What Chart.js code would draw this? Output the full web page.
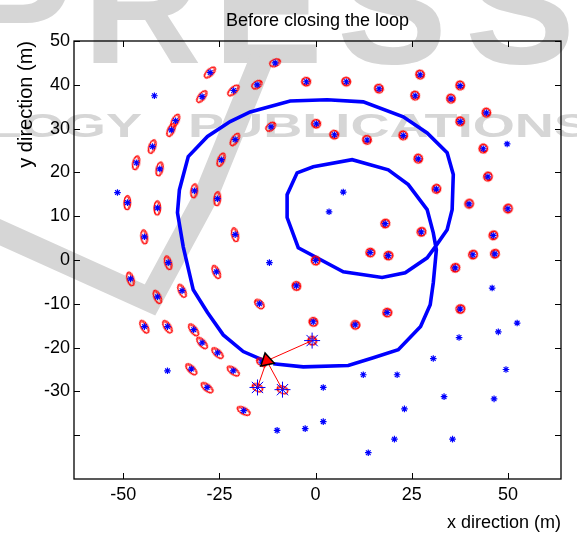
<!DOCTYPE html>
<html>
<head>
<meta charset="utf-8">
<script src="https://cdn.jsdelivr.net/npm/chart.js@4.4.1/dist/chart.umd.min.js"></script>
<style>
  html, body { margin: 0; padding: 0; background: #fff; }
</style>
</head>
<body>
<canvas id="slam" width="577" height="536"></canvas>
<script>
// robot trajectory (m)
const pathX = [-11.0, -3.2, 8.5, 15.0, 21.5, 27.3, 29.8, 30.6, 31.4, 30.6, 29.0, 24.1, 18.9, 9.5, -0.6, -4.8, -7.4, -7.4, -4.5, 7.2, 17.3, 23.3, 29.0, 31.1, 34.2, 35.5, 35.8, 34.2, 29.0, 22.8, 12.4, 3.0, -6.6, -17.0, -22.2, -28.1, -33.1, -35.4, -35.9, -34.4, -31.8, -28.1, -24.0, -18.8, -13.8];
const pathY = [-23.7, -24.4, -24.1, -22.3, -20.5, -15.2, -10.2, -5.2, 2.3, 6.2, 11.5, 17.2, 20.6, 22.9, 21.3, 19.9, 14.9, 9.7, 2.8, -2.7, -4.0, -2.9, 0.5, 3.0, 6.9, 11.5, 19.5, 24.5, 29.0, 32.7, 36.1, 36.6, 36.3, 33.8, 31.6, 28.2, 23.6, 16.0, 10.8, 3.0, -6.8, -12.0, -17.1, -20.9, -22.8];

// landmarks already in the map (star + covariance ellipse)
const mappedX = [-27.4, -10.5, -21.3, -15.2, -29.5, -36.4, -37.5, -11.6, -20.9, -42.4, -46.6, -40.5, -24.5, -48.9, -31.5, -25.5, -41.1, -44.5, -20.9, -38.3, -25.8, -48.1, -34.7, -41.1, -14.6, -5.0, -44.5, -38.5, -31.7, -29.5, -25.5, -32.3, -21.4, -28.2, -18.7, -14.0,
  -2.4, 8.0, 16.5, 27.2, 37.6, 25.9, 35.2, 44.4, 0.2, 4.9, 13.4, 22.8, 37.6, 26.7, 43.6, 44.8, 31.4, 39.9, 50.0, 18.1, 27.5, 46.2, 14.2, 18.9, 40.9, 46.6, 0.0, 36.3, 37.6, 18.6, -0.6, 10.3];
const mappedY = [42.8, 45.0, 38.7, 40.0, 37.3, 31.8, 29.7, 30.4, 27.5, 25.9, 22.2, 20.8, 22.9, 13.1, 15.8, 14.0, 11.9, 5.3, 5.8, -0.6, -2.7, -4.3, -7.0, -8.4, -10.0, -5.9, -15.2, -15.2, -15.9, -18.9, -21.2, -24.9, -25.3, -29.1, -34.4, -23.3,
  40.7, 40.7, 39.1, 42.3, 39.8, 37.5, 36.8, 33.6, 31.1, 28.6, 27.4, 28.4, 31.6, 23.1, 25.4, 19.0, 16.2, 12.8, 11.7, 8.3, 6.4, 5.6, 1.7, 1.0, 1.2, 1.4, -0.1, -1.8, -11.2, -12.0, -14.1, -14.8];

// landmarks not yet seen (star only)
const unseenX = [-41.9, -51.5, -12.0, -38.5, -10.0, 49.8, 7.2, 3.5, 45.9, 52.4, 47.5, 37.3, 30.6, 49.5, 12.4, 21.2, 2.0, 33.4, 46.4, 23.1, 2.0, -2.7, 20.5, 35.6, 13.7];
const unseenY = [37.5, 15.4, -0.6, -25.3, -38.9, 26.5, 15.5, 11.0, -6.4, -14.4, -16.4, -17.7, -22.5, -25.0, -26.2, -26.2, -29.1, -31.2, -31.7, -34.0, -36.9, -38.5, -40.9, -40.9, -44.0];

// landmarks observed at the current step
const observedX = [-0.9, -15.1, -8.6];
const observedY = [-18.4, -29.1, -29.6];

// current robot pose
const robotX = -12.7;
const robotY = -23.0;
const robotHeading = 108; // degrees, canvas rotation of the triangle

const xTicks = [-50, -25, 0, 25, 50];
const yTicks = [50, 40, 30, 20, 10, 0, -10, -20, -30];

const FONT = "'Liberation Sans', Arial, Helvetica, sans-serif";
Chart.defaults.font.family = FONT;
Chart.defaults.color = '#000';

const pts = (xs, ys) => xs.map((x, i) => ({ x: x, y: ys[i] }));

let rays = [];
observedX.forEach((x, i) => {
  rays.push({ x: robotX, y: robotY }, { x: x, y: observedY[i] }, { x: null, y: null });
});

// red covariance ellipses as small sprites
function sprite(a, b, lw) {
  const c = document.createElement('canvas');
  const w = Math.ceil(2 * Math.max(a, b)) + 6;
  c.width = w; c.height = w;
  const g = c.getContext('2d');
  g.strokeStyle = '#ff0000';
  g.lineWidth = lw;
  g.beginPath(); g.ellipse(w / 2, w / 2, a, b, 0, 0, Math.PI * 2); g.stroke();
  g.beginPath(); g.ellipse(w / 2 + 0.8, w / 2 - 0.6, a * 0.8, b * 0.88, 0, 0, Math.PI * 2); g.stroke();
  return c;
}
const bigEll = sprite(3.3, 7.2, 1.1);
const midEll = sprite(3.6, 5.6, 1.1);
const ring = sprite(4.2, 4.2, 1.4);

function ellStyle(ctx) {
  const v = ctx.raw;
  if (!v) return ring;
  if (v.x < -17) return bigEll;
  if (v.x < -6) return midEll;
  return ring;
}
function ellRot(ctx) {
  const v = ctx.raw;
  if (!v) return 0;
  const dx = (v.x - 8) * 3.85, dy = -(v.y - 12) * 4.38;
  return Math.atan2(dy, dx) * 180 / Math.PI;
}

const watermark = {
  id: 'watermark',
  beforeDraw(chart) {
    const g = chart.ctx;
    g.save();
    g.fillStyle = '#fff';
    g.fillRect(0, 0, chart.width, chart.height);
    g.fillStyle = '#d6d6d6';
    g.strokeStyle = '#d6d6d6';
    g.font = 'bold 165px ' + FONT;
    g.textBaseline = 'alphabetic';
    g.textAlign = 'center';
    const letters = ['P', 'R', 'E', 'S', 'S'];
    const lx = [18, 142, 268, 392, 520];
    letters.forEach((l, i) => g.fillText(l, lx[i], 63));

    g.font = 'bold 33px ' + FONT;
    const k = 402 / g.measureText('PUBLICATIONS').width;
    g.save();
    g.textAlign = 'right';
    g.translate(142, 137);
    g.scale(k, 1);
    g.fillText('SCIENCE AND TECHNOLOGY', 0, 0);
    g.restore();
    g.save();
    g.textAlign = 'left';
    g.translate(188, 137);
    g.scale(k, 1);
    g.fillText('PUBLICATIONS', 0, 0);
    g.restore();

    g.lineWidth = 24;
    g.lineJoin = 'miter';
    g.beginPath();
    g.moveTo(-5, 230);
    g.lineTo(150, 300);
    g.lineTo(205, 198);
    g.lineTo(262, 58);
    g.stroke();
    g.restore();
  }
};

const frame = {
  id: 'frame',
  afterDraw(chart) {
    const g = chart.ctx;
    const a = chart.chartArea;
    const sx = chart.scales.x, sy = chart.scales.y;
    g.save();
    g.strokeStyle = '#000';
    g.lineWidth = 1.3;
    g.strokeRect(a.left, a.top, a.right - a.left, a.bottom - a.top);
    g.lineWidth = 1;
    g.beginPath();
    sx.ticks.forEach(t => {
      const px = Math.round(sx.getPixelForValue(t.value)) + 0.5;
      g.moveTo(px, a.bottom); g.lineTo(px, a.bottom - 6);
      g.moveTo(px, a.top); g.lineTo(px, a.top + 6);
    });
    sy.ticks.forEach(t => {
      const py = Math.round(sy.getPixelForValue(t.value)) + 0.5;
      g.moveTo(a.left, py); g.lineTo(a.left + 6, py);
      g.moveTo(a.right, py); g.lineTo(a.right - 6, py);
    });
    g.stroke();
    g.restore();
  }
};

new Chart(document.getElementById('slam'), {
  type: 'scatter',
  data: {
    datasets: [
      {
        label: 'trajectory',
        data: pts(pathX, pathY),
        showLine: true,
        borderColor: '#0000ff',
        borderWidth: 3.6,
        pointRadius: 0,
        tension: 0,
        order: 6
      },
      {
        label: 'ellipses',
        data: pts(mappedX, mappedY).concat(pts(observedX, observedY)),
        pointStyle: ellStyle,
        rotation: ellRot,
        pointRadius: 5,
        order: 5
      },
      {
        label: 'mapped',
        data: pts(mappedX, mappedY),
        pointStyle: 'star',
        pointRadius: 3.3,
        borderColor: '#0000ff',
        backgroundColor: '#0000ff',
        borderWidth: 1.2,
        order: 4
      },
      {
        label: 'unseen',
        data: pts(unseenX, unseenY),
        pointStyle: 'star',
        pointRadius: 3.3,
        borderColor: '#0000ff',
        backgroundColor: '#0000ff',
        borderWidth: 1.2,
        order: 4
      },
      {
        label: 'observed',
        data: pts(observedX, observedY),
        pointStyle: 'star',
        pointRadius: 8,
        borderColor: '#0000ff',
        borderWidth: 1,
        order: 3
      },
      {
        label: 'rays',
        data: rays,
        showLine: true,
        spanGaps: false,
        borderColor: '#ff0000',
        borderWidth: 1,
        pointRadius: 0,
        order: 2
      },
      {
        label: 'robot',
        data: [{ x: robotX, y: robotY }],
        pointStyle: 'triangle',
        pointRadius: 8,
        rotation: robotHeading,
        backgroundColor: '#ff0000',
        borderColor: '#000',
        borderWidth: 1.5,
        order: 1
      }
    ]
  },
  options: {
    responsive: false,
    animation: false,
    layout: { padding: { left: 0, right: 16, top: 0, bottom: 0 } },
    plugins: {
      legend: { display: false },
      tooltip: { enabled: false },
      title: {
        display: true,
        text: 'Before closing the loop',
        fullSize: false,
        color: '#000',
        font: { size: 18, weight: 'normal' },
        padding: { top: 10, bottom: 9.4 }
      }
    },
    scales: {
      x: {
        type: 'linear',
        min: -62.8,
        max: 63.8,
        afterFit: s => { s.height = 57; },
        afterBuildTicks: s => { s.ticks = xTicks.map(v => ({ value: v })); },
        grid: { display: false, drawTicks: false },
        border: { display: false },
        ticks: { font: { size: 18 }, color: '#000', padding: 5, maxRotation: 0 },
        title: {
          display: true,
          text: 'x direction (m)',
          align: 'end',
          color: '#000',
          font: { size: 18 },
          padding: { top: 0, bottom: 2 }
        }
      },
      y: {
        type: 'linear',
        min: -50,
        max: 50,
        afterFit: s => { s.width = 74; },
        afterBuildTicks: s => { s.ticks = [-40].concat(yTicks).map(v => ({ value: v })); },
        grid: { display: false, drawTicks: false },
        border: { display: false },
        ticks: {
          font: { size: 18 },
          color: '#000',
          padding: 4,
          callback: v => (yTicks.includes(v) ? String(v) : '')
        },
        title: {
          display: true,
          text: 'y direction (m)',
          align: 'end',
          color: '#000',
          font: { size: 20 },
          padding: { top: 14, bottom: 0 }
        }
      }
    }
  },
  plugins: [watermark, frame]
});
</script>
</body>
</html>
